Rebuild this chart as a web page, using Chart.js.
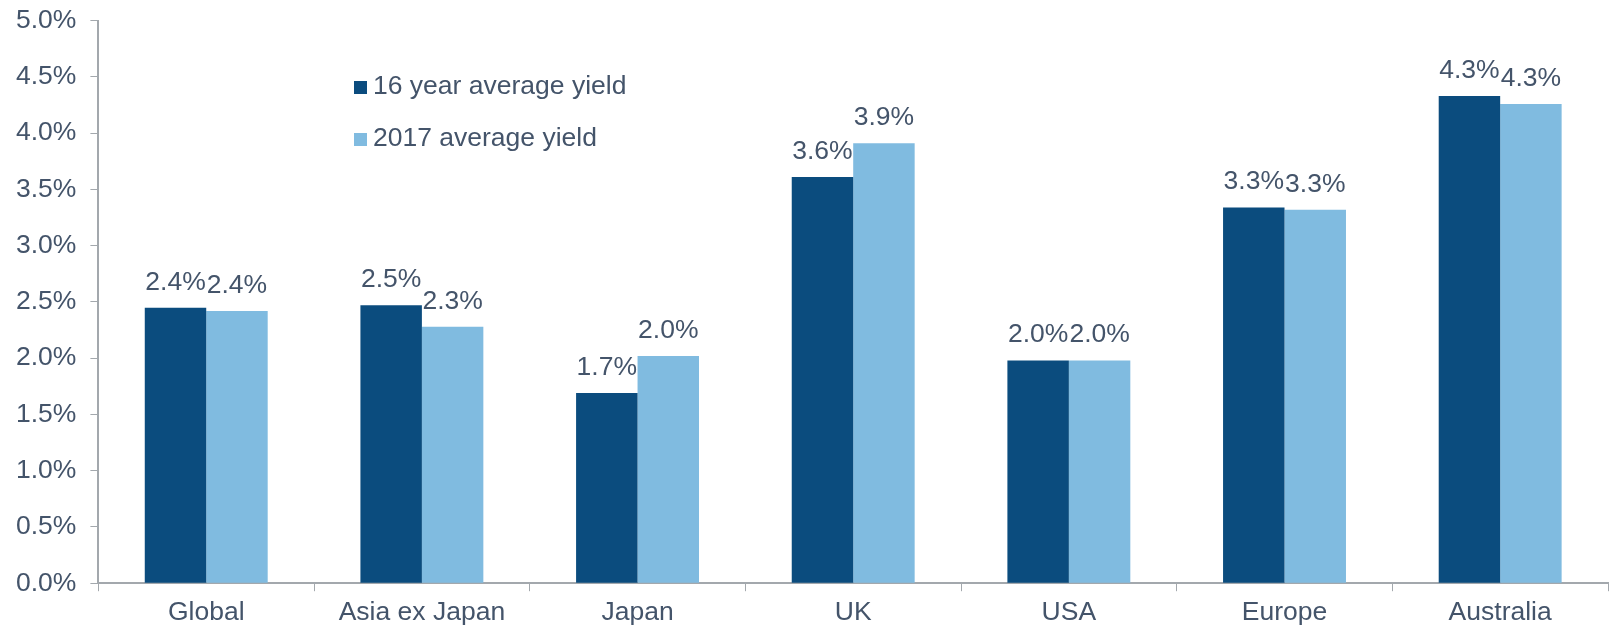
<!DOCTYPE html>
<html>
<head>
<meta charset="utf-8">
<script src="https://cdn.jsdelivr.net/npm/chart.js@4"></script>
<style>
  html, body { margin: 0; padding: 0; background: #fff; }
  .chart { width: 1612px; height: 626px; position: relative; }
</style>
</head>
<body>
<div class="chart"><canvas id="yieldChart"></canvas></div>
<script>
const regions = ['Global', 'Asia ex Japan', 'Japan', 'UK', 'USA', 'Europe', 'Australia'];
const avg16yr = [2.449, 2.47, 1.69, 3.61, 1.98, 3.34, 4.33];
const avg2017 = [2.42, 2.28, 2.02, 3.91, 1.98, 3.32, 4.26];
const yTicks = [0, 0.5, 1, 1.5, 2, 2.5, 3, 3.5, 4, 4.5, 5];

const textColor = '#44546a';
const axisColor = '#a3a8ad';
const fontFamily = '"Liberation Sans", Arial, sans-serif';
const fontSize = 26.5;

// value labels above each bar
const barLabels = {
    id: 'barLabels',
    afterDatasetsDraw(chart) {
        const ctx = chart.ctx;
        ctx.save();
        ctx.font = fontSize + 'px ' + fontFamily;
        ctx.fillStyle = textColor;
        ctx.textAlign = 'center';
        ctx.textBaseline = 'alphabetic';
        chart.data.datasets.forEach((ds, i) => {
            chart.getDatasetMeta(i).data.forEach((bar, j) => {
                ctx.fillText(ds.data[j].toFixed(1) + '%', bar.x, bar.y - 18);
            });
        });
        ctx.restore();
    }
};

// legend stacked vertically inside the plot
const innerLegend = {
    id: 'innerLegend',
    afterDraw(chart) {
        const ctx = chart.ctx;
        ctx.save();
        ctx.font = fontSize + 'px ' + fontFamily;
        ctx.textBaseline = 'middle';
        chart.data.datasets.forEach((ds, i) => {
            const y = 87 + i * 52;
            ctx.fillStyle = ds.backgroundColor;
            ctx.fillRect(354, y - 6, 13, 13);
            ctx.fillStyle = textColor;
            ctx.fillText(ds.label, 373, y);
        });
        ctx.restore();
    }
};

new Chart(document.getElementById('yieldChart').getContext('2d'), {
    type: 'bar',
    data: {
        labels: regions,
        datasets: [
            {
                label: '16 year average yield',
                data: avg16yr,
                backgroundColor: '#0b4c7e',
                barPercentage: 1.0,
                categoryPercentage: 0.57,
            },
            {
                label: '2017 average yield',
                data: avg2017,
                backgroundColor: '#80bbe0',
                barPercentage: 1.0,
                categoryPercentage: 0.57,
            }
        ]
    },
    options: {
        responsive: true,
        maintainAspectRatio: false,
        animation: false,
        layout: {
            padding: { top: 0, right: 4, left: 2, bottom: -9 }
        },
        scales: {
            x: {
                grid: {
                    drawOnChartArea: false,
                    color: axisColor,
                    tickLength: 8,
                    offset: true,
                },
                border: { color: axisColor, width: 2 },
                ticks: {
                    color: textColor,
                    font: { family: fontFamily, size: fontSize },
                    padding: 6,
                    maxRotation: 0,
                },
            },
            y: {
                min: 0,
                max: 5,
                afterBuildTicks(axis) {
                    axis.ticks = yTicks.map(v => ({ value: v }));
                },
                grid: {
                    drawOnChartArea: false,
                    color: axisColor,
                    tickLength: 8,
                },
                border: { color: axisColor, width: 2 },
                ticks: {
                    color: textColor,
                    font: { family: fontFamily, size: fontSize, lineHeight: 0.5 },
                    padding: 14,
                    callback: v => v.toFixed(1) + '%',
                },
            }
        },
        plugins: {
            legend: { display: false },
            tooltip: { enabled: false },
        },
    },
    plugins: [barLabels, innerLegend],
});
</script>
</body>
</html>
